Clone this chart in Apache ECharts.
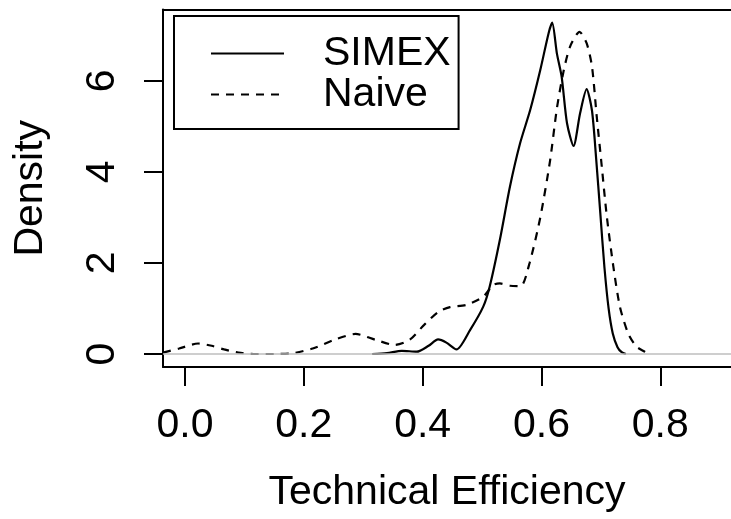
<!DOCTYPE html>
<html>
<head>
<meta charset="utf-8">
<script src="https://cdn.jsdelivr.net/npm/echarts@6/dist/echarts.min.js"></script>
<style>
html,body{margin:0;padding:0;background:#fff;}
#chart{width:731px;height:519px;}
</style>
</head>
<body>
<div id="chart"></div>
<script>
// ---- data ----
const simexX = [0.315,0.34,0.365,0.39,0.41,0.426,0.44,0.457,0.48,0.502,0.513,0.53,0.547,0.564,0.581,0.598,0.612,0.618,0.626,0.634,0.643,0.654,0.665,0.676,0.685,0.692,0.699,0.706,0.713,0.72,0.728,0.735,0.742];
const simexY = [0.00,0.02,0.07,0.05,0.18,0.32,0.25,0.10,0.53,1.04,1.49,2.51,3.68,4.63,5.36,6.24,7.05,7.28,6.60,6.09,5.07,4.57,5.29,5.82,5.35,4.30,3.10,1.90,1.00,0.45,0.15,0.04,0.00];
const naiveX = [-0.037,-0.01,0.022,0.045,0.066,0.09,0.116,0.15,0.178,0.215,0.253,0.287,0.321,0.353,0.378,0.4025,0.427,0.446,0.474,0.502,0.519,0.53,0.547,0.565,0.58,0.598,0.6145,0.626,0.637,0.648,0.664,0.676,0.685,0.693,0.7015,0.71,0.721,0.732,0.746,0.76,0.774,0.778];
const naiveY = [0.03,0.12,0.23,0.18,0.10,0.03,0.00,0.00,0.01,0.12,0.32,0.44,0.31,0.20,0.31,0.64,0.93,1.03,1.08,1.26,1.52,1.55,1.50,1.49,2.00,3.00,4.25,5.40,6.20,6.75,7.08,6.83,6.32,5.22,4.12,3.02,1.92,1.04,0.45,0.16,0.05,0.02];
const xTicks = [0.0,0.2,0.4,0.6,0.8];
const yTicks = [0,2,4,6];
const seriesNames = ['SIMEX','Naive'];
const xTitle = 'Technical Efficiency';
const yTitle = 'Density';

const FONT = "'Liberation Sans', Arial, Helvetica, sans-serif";
const FS = 41;

const chart = echarts.init(document.getElementById('chart'), null, {renderer:'canvas'});
const pair = (xs, ys) => xs.map((x,i)=>[x, ys[i]]);

const option = {
  animation:false,
  backgroundColor:'#ffffff',
  grid:{left:163, top:9.5, right:0, bottom:152, containLabel:false, outerBoundsMode:'none'},
  xAxis:[{
    type:'value', min:-0.037, max:0.919, position:'bottom',
    name:xTitle, nameLocation:'middle', nameGap:105,
    nameTextStyle:{fontFamily:FONT, fontSize:FS, color:'#000'},
    axisLine:{show:true, onZero:false, lineStyle:{color:'#000', width:2}},
    axisTick:{show:true, customValues:xTicks, length:19, lineStyle:{color:'#000', width:2}},
    axisLabel:{show:true, customValues:xTicks, margin:38, fontFamily:FONT, fontSize:FS, color:'#000',
      formatter:(v)=>v.toFixed(1)},
    splitLine:{show:false}
  },{
    type:'value', min:-0.037, max:0.919, position:'top',
    axisLine:{show:true, onZero:false, lineStyle:{color:'#000', width:2}},
    axisTick:{show:false}, axisLabel:{show:false}, splitLine:{show:false}
  }],
  yAxis:{
    type:'value', min:-0.286, max:7.57,
    name:yTitle, nameLocation:'middle', nameGap:112, nameRotate:90,
    nameTextStyle:{fontFamily:FONT, fontSize:FS, color:'#000'},
    axisLine:{show:true, onZero:false, lineStyle:{color:'#000', width:2}},
    axisTick:{show:true, customValues:yTicks, length:19, lineStyle:{color:'#000', width:2}},
    axisLabel:{show:true, customValues:yTicks, rotate:90, margin:40, fontFamily:FONT, fontSize:FS, color:'#000'},
    splitLine:{show:false}
  },
  legend:{
    orient:'vertical', left:174, top:16,
    padding:[17,8,14,36],
    borderColor:'#000', borderWidth:2,
    itemWidth:73, itemHeight:2, itemGap:0,
    itemStyle:{opacity:0},
    data:seriesNames,
    textStyle:{fontFamily:FONT, fontSize:FS, color:'#000', lineHeight:38, padding:[0,0,0,34]}
  },
  series:[
    {
      name:seriesNames[0], type:'line', data:pair(simexX, simexY),
      smooth:0.25, symbol:'none', z:3,
      lineStyle:{color:'#000', width:2.2, type:'solid'},
      itemStyle:{color:'#000'},
      markLine:{
        silent:true, symbol:'none', label:{show:false},
        lineStyle:{color:'#bebebe', width:1.5, type:'solid'},
        data:[{yAxis:0}]
      }
    },
    {
      name:seriesNames[1], type:'line', data:pair(naiveX, naiveY),
      smooth:0.25, symbol:'none', z:3,
      lineStyle:{color:'#000', width:2.2, type:[8,7]},
      itemStyle:{color:'#000'}
    }
  ]
};
chart.setOption(option);
</script>
</body>
</html>
